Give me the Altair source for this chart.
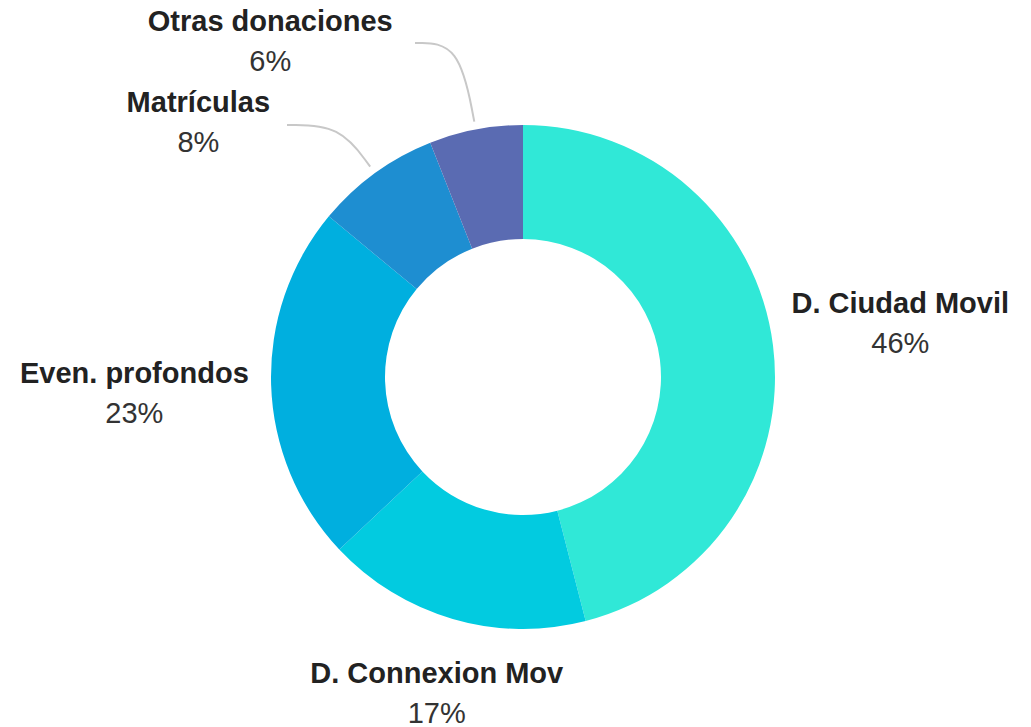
import math
import altair as alt
import pandas as pd

# ---- data ----
categories = ["D. Ciudad Movil", "D. Connexion Mov", "Even. profondos", "Matrículas", "Otras donaciones"]
values = [46, 17, 23, 8, 6]
colors = ["#30E8D7", "#02CBE0", "#00AFDF", "#1E8ED1", "#5A6BB2"]

# ---- layout ----
CX, CY = 515, 369          # donut centre (px)
R_OUT, R_IN = 252, 138
FONT = "Arial, 'Liberation Sans', Helvetica, sans-serif"
FS = 29
# label block placement: distance from centre and angle (deg, clockwise from top)
label_r = [381, 329, 389, 412, 420]
label_angle = [82.0, 195.2, 267.5, 308, 323]
# connector lines for the small slices: (category, elbow y, end x)
connectors = [("Matrículas", 117, 279), ("Otras donaciones", 35, 407)]

total = sum(values)
rows = []
cum = 0.0
mid_angles = {}
for i, (c, v) in enumerate(zip(categories, values)):
    mid_angles[c] = (cum + v / 2) / total * 360
    cum += v
    a = math.radians(label_angle[i])
    lx = CX + label_r[i] * math.sin(a)
    ly = CY - label_r[i] * math.cos(a)
    rows.append({"category": c, "value": v, "idx": i,
                 "pct": f"{round(v / total * 100)}%", "lx": lx, "ly": ly})
df = pd.DataFrame(rows)

line_rows = []
for c, ey, ex in connectors:
    a = math.radians(mid_angles[c])
    dx, dy = math.sin(a), -math.cos(a)
    sx, sy = CX + (R_OUT + 8) * dx, CY + (R_OUT + 8) * dy
    t = (ey - sy) / dy
    line_rows += [
        {"category": c, "k": 0, "px": sx, "py": sy},
        {"category": c, "k": 1, "px": sx + t * dx, "py": ey},
        {"category": c, "k": 2, "px": ex, "py": ey},
    ]
ldf = pd.DataFrame(line_rows)

arcs = alt.Chart(df).mark_arc(radius=R_OUT, radius2=R_IN, stroke=None).encode(
    theta=alt.Theta("value:Q", stack=True),
    order=alt.Order("idx:Q"),
    color=alt.Color("category:N", scale=alt.Scale(domain=categories, range=colors), legend=None),
    x=alt.value(CX),
    y=alt.value(CY),
)

names = alt.Chart(df).mark_text(
    font=FONT, fontSize=FS, fontWeight="bold", color="#222222",
    align="center", baseline="middle", dy=-20,
).encode(
    x=alt.X("lx:Q", scale=None, axis=None),
    y=alt.Y("ly:Q", scale=None, axis=None),
    text="category:N",
)

pcts = alt.Chart(df).mark_text(
    font=FONT, fontSize=FS, color="#333333",
    align="center", baseline="middle", dy=20,
).encode(
    x=alt.X("lx:Q", scale=None, axis=None),
    y=alt.Y("ly:Q", scale=None, axis=None),
    text="pct:N",
)

lines = alt.Chart(ldf).mark_line(
    interpolate="basis", color="#c8c8c8", strokeWidth=2,
).encode(
    x=alt.X("px:Q", scale=None, axis=None),
    y=alt.Y("py:Q", scale=None, axis=None),
    detail="category:N",
    order="k:Q",
)

chart = alt.layer(lines, arcs, names, pcts).properties(
    width=1014, height=719,
    autosize=alt.AutoSizeParams(type="none"),
    padding=0,
).configure_view(stroke=None)

chart.save("out.html", embed_options={"renderer": "svg", "actions": False})
